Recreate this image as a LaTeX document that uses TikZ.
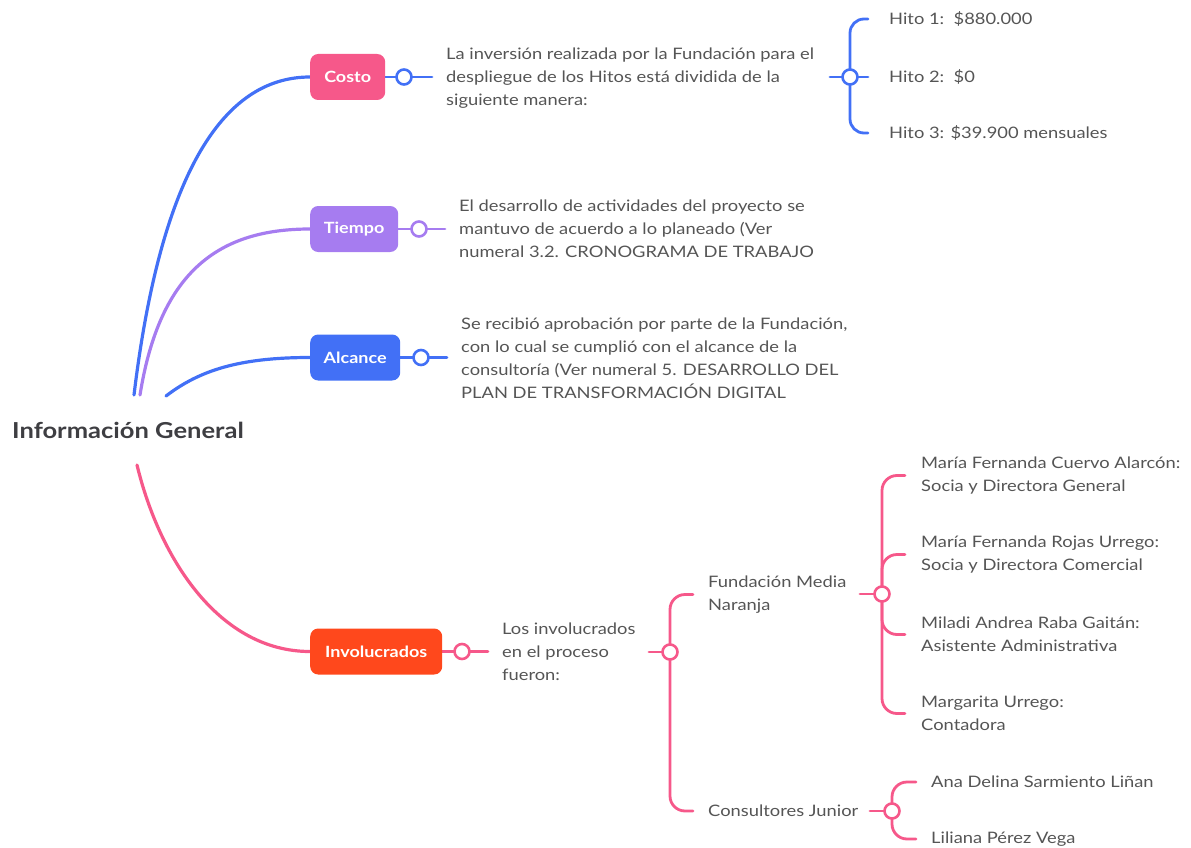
\documentclass[tikz,border=0pt]{standalone}
\usepackage{fontspec}
\setmainfont{Lato}[FakeStretch=1.16]
\usetikzlibrary{calc}
\pgfdeclarelayer{bg}
\pgfsetlayers{bg,main}
\definecolor{cblue}{RGB}{66,112,246}
\definecolor{cpink}{RGB}{246,88,138}
\definecolor{cpurple}{RGB}{166,124,240}
\definecolor{cred}{RGB}{255,72,28}
\definecolor{ctext}{RGB}{85,85,85}
\definecolor{cdark}{RGB}{62,62,66}
\begin{document}
\begin{tikzpicture}[x=1pt,y=-1pt,
  box/.style={fill=#1, rounded corners=8pt, text=white, font=\fontsize{15.5}{19}\selectfont\bfseries,
    minimum height=46pt, inner xsep=12pt, inner ysep=0pt, anchor=west},
  circ/.style={circle, draw=#1, line width=2.6pt, fill=white, minimum size=15pt, inner sep=0pt},
  txt/.style={text=ctext, font=\fontsize{15.8}{23}\selectfont, inner sep=0pt, anchor=west, align=left},
  branch/.style={draw=#1, line width=3.2pt, line cap=round},
  link/.style={draw=#1, line width=2.8pt, line cap=round},
  brk/.style={draw=#1, line width=2.8pt, line cap=round, rounded corners=15pt}
]
\useasboundingbox (0,0) rectangle (1191,848);

% centre
\node[text=cdark, font=\fontsize{22}{26}\selectfont\bfseries, inner sep=0pt, anchor=west] (centre) at (12,430) {Información General};
\coordinate (s1) at (134,395);
\coordinate (s2) at (140,395);
\coordinate (s3) at (166,396);
\coordinate (s4) at (137,465);

% boxes
\node[box=cpink, minimum width=75pt] (costo) at (310,77) {Costo};
\node[box=cpurple, minimum width=88pt] (tiempo) at (310,229) {Tiempo};
\node[box=cblue, minimum width=90pt] (alcance) at (310,357.5) {Alcance};
\node[box=cred, minimum width=132pt] (invol) at (310,651.5) {Involucrados};

% circles
\node[circ=cblue] (cc) at (404,77) {};
\node[circ=cpurple] (tc) at (419,229) {};
\node[circ=cblue] (ac) at (421,357.5) {};
\node[circ=cpink] (ic) at (462,651.5) {};
\node[circ=cblue] (hc) at (850,77) {};
\node[circ=cpink] (lc) at (670,652) {};
\node[circ=cpink] (fc) at (882,594) {};
\node[circ=cpink] (jc) at (892,811) {};

% texts
\node[txt] (costoT) at (446,78) {La inversión realizada por la Fundación para el\\despliegue de los Hitos está dividida de la\\siguiente manera:};
\node[txt] (h1) at (889,19) {Hito 1:\ \ \$880.000};
\node[txt] (h2) at (889,77) {Hito 2:\ \ \$0};
\node[txt] (h3) at (889,133) {Hito 3: \$39.900 mensuales};
\node[txt] (tiempoT) at (459,229) {El desarrollo de actividades del proyecto se\\mantuvo de acuerdo a lo planeado (Ver\\numeral 3.2. CRONOGRAMA DE TRABAJO};
\node[txt] (alcanceT) at (461,358) {Se recibió aprobación por parte de la Fundación,\\con lo cual se cumplió con el alcance de la\\consultoría (Ver numeral 5. DESARROLLO DEL\\PLAN DE TRANSFORMACIÓN DIGITAL};
\node[txt] (involT) at (502,652) {Los involucrados\\en el proceso\\fueron:};
\node[txt] (fund) at (708,594.5) {Fundación Media\\Naranja};
\node[txt] (cons) at (708,811) {Consultores Junior};
\node[txt] (p1) at (921,475.5) {María Fernanda Cuervo Alarcón:\\Socia y Directora General};
\node[txt] (p2) at (921,554.5) {María Fernanda Rojas Urrego:\\Socia y Directora Comercial};
\node[txt] (p3) at (921,634.5) {Miladi Andrea Raba Gaitán:\\Asistente Administrativa};
\node[txt] (p4) at (921,713.5) {Margarita Urrego:\\Contadora};
\node[txt] (j1) at (931,782) {Ana Delina Sarmiento Liñan};
\node[txt] (j2) at (931,839) {Liliana Pérez Vega};

\begin{pgfonlayer}{bg}
% main branches
\draw[branch=cblue] (s1) .. controls (160,180) and (220,77) .. (costo.west);
\draw[branch=cpurple] (s2) .. controls (160,270) and (220,229) .. (tiempo.west);
\draw[branch=cblue] (s3) .. controls (200,370) and (240,357.5) .. (alcance.west);
\draw[branch=cpink] (s4) .. controls (160,560) and (220,651.5) .. (invol.west);
% box links
\draw[link=cblue] (costo.east) -- (cc.center) -- ([xshift=-14pt]costoT.west |- cc.center);
\draw[link=cpurple] (tiempo.east) -- (tc.center) -- ([xshift=-14pt]tiempoT.west |- tc.center);
\draw[link=cblue] (alcance.east) -- (ac.center) -- ([xshift=-14pt]alcanceT.west |- ac.center);
\draw[link=cpink] (invol.east) -- (ic.center) -- ([xshift=-14pt]involT.west |- ic.center);
% Hitos bracket
\draw[link=cblue] ([xshift=-20pt]hc.center) -- (hc.center);
\draw[brk=cblue, rounded corners=14pt] (hc.center) |- ([xshift=-21pt]h1.west);
\draw[link=cblue] (hc.center) -- ([xshift=-21pt]h2.west);
\draw[brk=cblue, rounded corners=14pt] (hc.center) |- ([xshift=-21pt]h3.west);
% involucrados bracket
\draw[link=cpink] ([xshift=-21pt]lc.center) -- (lc.center);
\draw[brk=cpink] (lc.center) |- ([xshift=-15pt]fund.west);
\draw[brk=cpink] (lc.center) |- ([xshift=-15pt]cons.west);
% fundacion bracket
\draw[link=cpink] ([xshift=-22pt]fc.center) -- (fc.center);
\foreach \p in {p1,p2,p3,p4}{
  \draw[brk=cpink] (fc.center) |- ([xshift=-16pt]\p.west);
}
% consultores bracket
\draw[link=cpink] ([xshift=-22pt]jc.center) -- (jc.center);
\draw[brk=cpink] (jc.center) |- ([xshift=-15pt]j1.west);
\draw[brk=cpink] (jc.center) |- ([xshift=-15pt]j2.west);
\end{pgfonlayer}
\end{tikzpicture}
\end{document}
